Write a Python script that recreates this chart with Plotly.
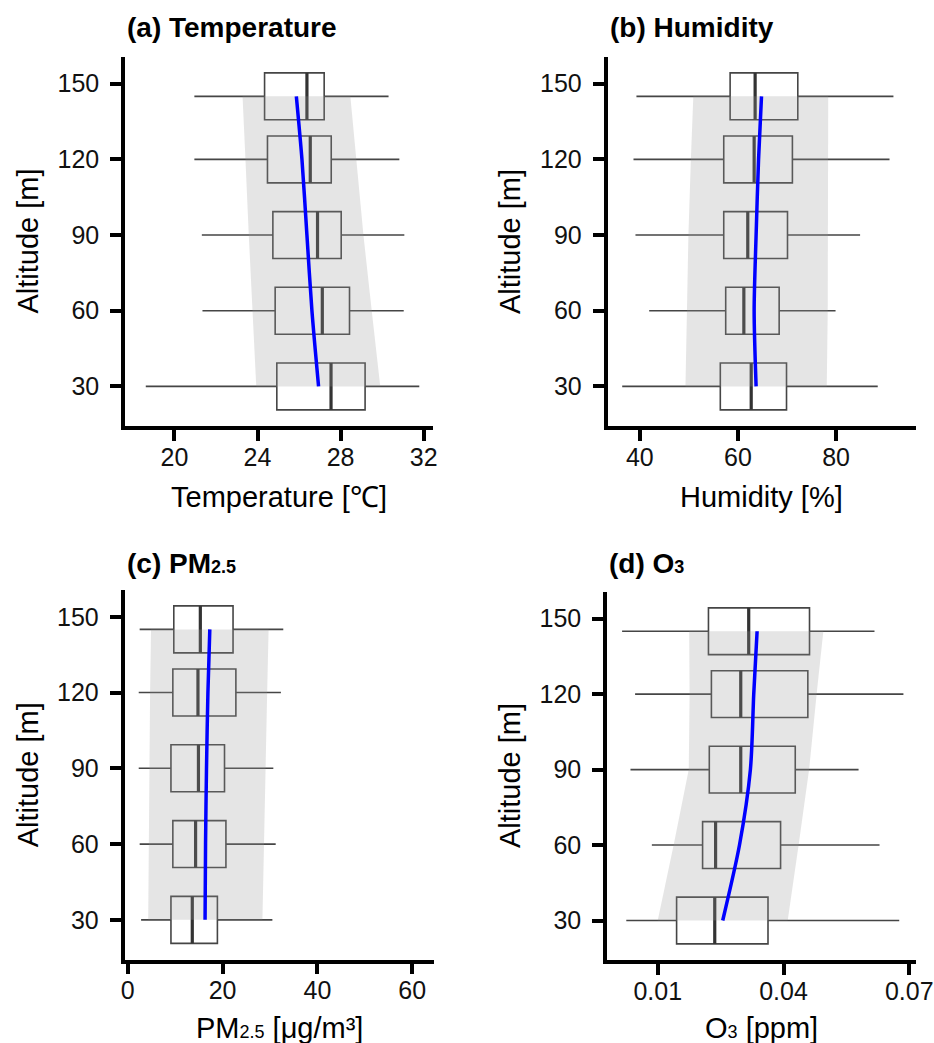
import plotly.graph_objects as go

W, H = 934, 1043

altitude = [30, 60, 90, 120, 145]

# (a) Temperature
temp_low = [18.62, 21.35, 21.32, 20.96, 20.96]
temp_q1 = [24.93, 24.85, 24.74, 24.48, 24.34]
temp_med = [27.54, 27.12, 26.89, 26.54, 26.38]
temp_q3 = [29.18, 28.43, 28.03, 27.55, 27.21]
temp_high = [31.79, 31.04, 31.07, 30.83, 30.31]
temp_fit = [26.94, 26.62, 26.38, 26.14, 25.87]
temp_band_lo = [23.94, 23.75, 23.58, 23.42, 23.28]
temp_band_hi = [29.91, 29.50, 29.10, 28.75, 28.47]

# (b) Humidity
hum_low = [36.4, 41.9, 39.1, 38.7, 39.3]
hum_q1 = [56.4, 57.5, 57.1, 57.1, 58.4]
hum_med = [62.7, 61.2, 62.0, 63.3, 63.5]
hum_q3 = [69.9, 68.4, 70.1, 71.1, 72.2]
hum_high = [88.5, 79.9, 84.9, 90.9, 91.7]
hum_fit = [63.7, 63.3, 63.7, 64.2, 64.8]
hum_band_lo = [49.3, 49.6, 49.9, 50.4, 50.9]
hum_band_hi = [78.1, 78.3, 78.4, 78.4, 78.4]

# (c) PM2.5
pm_low = [2.8, 2.5, 2.3, 2.3, 2.5]
pm_q1 = [9.1, 9.5, 9.1, 9.5, 9.7]
pm_med = [13.6, 14.3, 14.9, 14.8, 15.3]
pm_q3 = [18.9, 20.7, 20.4, 22.8, 22.2]
pm_high = [30.5, 31.2, 30.7, 32.3, 32.8]
pm_fit = [16.3, 16.4, 16.6, 16.9, 17.3]
pm_band_lo = [4.3, 4.4, 4.5, 4.7, 4.9]
pm_band_hi = [28.4, 28.8, 29.1, 29.4, 29.7]

# (d) O3
o3_low = [0.0025, 0.0086, 0.0035, 0.0046, 0.0015]
o3_q1 = [0.0145, 0.0207, 0.0223, 0.0228, 0.0221]
o3_med = [0.0236, 0.0238, 0.0298, 0.0298, 0.0317]
o3_q3 = [0.0363, 0.0393, 0.0428, 0.0458, 0.0462]
o3_high = [0.0676, 0.0629, 0.0579, 0.0686, 0.0617]
o3_fit = [0.0255, 0.0295, 0.0321, 0.0329, 0.0337]
o3_band_lo = [0.0100, 0.0138, 0.0174, 0.0176, 0.0175]
o3_band_hi = [0.0410, 0.0436, 0.0461, 0.0479, 0.0495]

titles = ["<b>(a) Temperature</b>", "<b>(b) Humidity</b>",
          "<b>(c) PM<span style='font-size:18px'>2.5</span></b>",
          "<b>(d) O<span style='font-size:18px'>3</span></b>"]
xtitles = ["Temperature [℃]", "Humidity [%]",
           "PM<span style='font-size:18px'>2.5</span> [μg/m³]",
           "O<span style='font-size:18px'>3</span> [ppm]"]
xranges = [[17.62, 32.45], [33.4, 96.3], [-0.7, 64.6], [-0.0021, 0.0716]]
xticks = [[20, 24, 28, 32], [40, 60, 80], [0, 20, 40, 60], [0.01, 0.04, 0.07]]
xticktext = [["20", "24", "28", "32"], ["40", "60", "80"],
             ["0", "20", "40", "60"], ["0.01", "0.04", "0.07"]]
yticks = [30, 60, 90, 120, 150]
yrange = [14.3, 160.6]

# panel rectangles in pixels (left, right, top, bottom)
panels = [(125, 433, 57, 426), (607.5, 916, 57, 426),
          (124.5, 434, 590, 959.5), (607, 916, 592, 960)]

data = [
    (temp_low, temp_q1, temp_med, temp_q3, temp_high, temp_fit, temp_band_lo, temp_band_hi),
    (hum_low, hum_q1, hum_med, hum_q3, hum_high, hum_fit, hum_band_lo, hum_band_hi),
    (pm_low, pm_q1, pm_med, pm_q3, pm_high, pm_fit, pm_band_lo, pm_band_hi),
    (o3_low, o3_q1, o3_med, o3_q3, o3_high, o3_fit, o3_band_lo, o3_band_hi),
]

BOXW = 18.6
FONT = "Liberation Sans, Arial, sans-serif"

fig = go.Figure()
annotations = []
layout = {}

for i, (lo, q1, med, q3, hi, fit, blo, bhi) in enumerate(data):
    n = "" if i == 0 else str(i + 1)
    xa, ya = "x" + n, "y" + n
    fig.add_trace(go.Box(
        y=altitude, q1=q1, median=med, q3=q3, lowerfence=lo, upperfence=hi,
        orientation="h", width=BOXW, whiskerwidth=0,
        fillcolor="rgba(255,255,255,0)", line=dict(color="#454545", width=1.6),
        boxpoints=False, showlegend=False, xaxis=xa, yaxis=ya, hoverinfo="skip"))
    mx, my = [], []
    for m, a in zip(med, altitude):
        mx += [m, m, None]
        my += [a - BOXW / 2, a + BOXW / 2, None]
    fig.add_trace(go.Scatter(x=mx, y=my, mode="lines",
                             line=dict(color="#333333", width=3.2),
                             showlegend=False, xaxis=xa, yaxis=ya, hoverinfo="skip"))
    fig.add_trace(go.Scatter(x=list(blo) + list(bhi)[::-1],
                             y=altitude + altitude[::-1], fill="toself",
                             fillcolor="rgba(150,150,150,0.25)", mode="lines",
                             line=dict(width=0), showlegend=False,
                             xaxis=xa, yaxis=ya, hoverinfo="skip"))
    fig.add_trace(go.Scatter(x=fit, y=altitude, mode="lines",
                             line=dict(color="#0000ff", width=3.5, shape="spline", smoothing=0.8),
                             showlegend=False, xaxis=xa, yaxis=ya, hoverinfo="skip"))

    L, R, T, B = panels[i]
    common = dict(showline=True, linecolor="black", linewidth=3.5, ticks="outside",
                  ticklen=11, tickwidth=3.5, tickcolor="black", showgrid=False,
                  zeroline=False, automargin=False, ticklabeloverflow="allow",
                  tickfont=dict(family=FONT, size=25, color="#111111"))
    layout["xaxis" + n] = dict(domain=[L / W, R / W], range=xranges[i], anchor=ya,
                               tickvals=xticks[i], ticktext=xticktext[i],
                               ticklabelstandoff=-5, **common)
    layout["yaxis" + n] = dict(domain=[1 - B / H, 1 - T / H], range=yrange, anchor=xa,
                               tickvals=yticks, ticklabelstandoff=6, **common)
    annotations.append(dict(text=titles[i], x=L / W, y=1 - (28 if i < 2 else 563) / H,
                            xref="paper", yref="paper", xanchor="left", yanchor="middle",
                            showarrow=False, font=dict(family=FONT, size=28, color="black")))
    annotations.append(dict(text=xtitles[i], x=(L + R) / 2 / W,
                            y=1 - (B + (71 if i < 2 else 68)) / H,
                            xref="paper", yref="paper", xanchor="center", yanchor="middle",
                            showarrow=False, font=dict(family=FONT, size=29, color="black")))
    annotations.append(dict(text="Altitude [m]", x=(L - 97) / W, y=1 - (T + B) / 2 / H,
                            xref="paper", yref="paper", xanchor="center", yanchor="middle",
                            textangle=-90, showarrow=False,
                            font=dict(family=FONT, size=29, color="black")))

fig.update_layout(width=W, height=H, margin=dict(l=0, r=0, t=0, b=0, autoexpand=False),
                  paper_bgcolor="white", plot_bgcolor="white",
                  annotations=annotations, **layout)

fig.write_html("out.html", config={"responsive": False, "displayModeBar": False},
               post_script="document.body.style.margin='0';document.body.style.overflow='hidden';")
